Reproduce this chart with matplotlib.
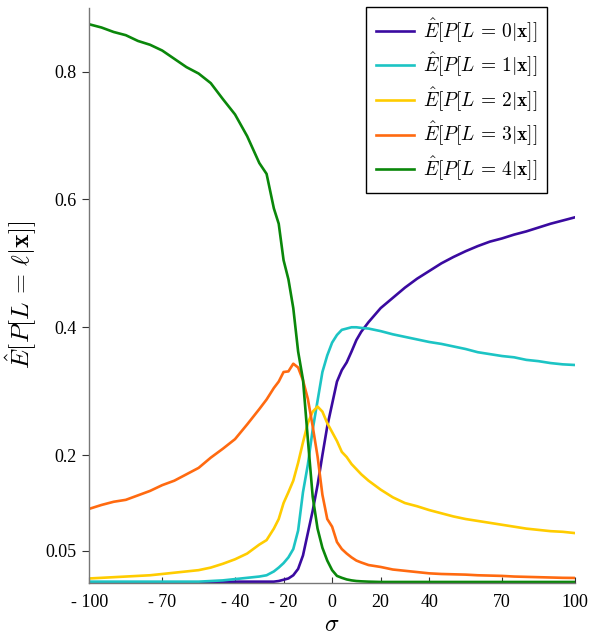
import matplotlib
matplotlib.use("Agg")
import matplotlib.pyplot as plt
import numpy as np

plt.rcParams['font.family'] = ['Liberation Serif', 'DejaVu Serif']
plt.rcParams['mathtext.fontset'] = 'cm'

# noise level sigma
sigma = [-100, -95, -90, -85, -80, -75, -70, -65, -60, -55, -50, -45, -40, -35,
         -30, -27, -24, -22, -20, -18, -16, -14, -12, -10, -8, -6, -4, -2, 0,
         2, 4, 6, 8, 10, 12, 15, 20, 25, 30, 35, 40, 45, 50, 55, 60, 65, 70,
         75, 80, 85, 90, 95, 100]

# mean posterior per level
p_l0 = [0.001, 0.001, 0.001, 0.001, 0.001, 0.001, 0.001, 0.001, 0.001, 0.001,
        0.001, 0.0015, 0.002, 0.002, 0.002, 0.002, 0.002, 0.003, 0.005, 0.007,
        0.012, 0.022, 0.043, 0.078, 0.113, 0.153, 0.200, 0.245, 0.280, 0.315,
        0.333, 0.345, 0.362, 0.380, 0.393, 0.408, 0.430, 0.446, 0.462, 0.476,
        0.488, 0.500, 0.510, 0.519, 0.527, 0.534, 0.539, 0.545, 0.550, 0.556,
        0.562, 0.567, 0.572]
p_l1 = [0.002, 0.002, 0.002, 0.002, 0.002, 0.002, 0.002, 0.002, 0.002, 0.002,
        0.003, 0.004, 0.006, 0.008, 0.010, 0.012, 0.018, 0.024, 0.031, 0.040,
        0.053, 0.082, 0.142, 0.185, 0.240, 0.285, 0.330, 0.356, 0.376, 0.388,
        0.396, 0.398, 0.400, 0.400, 0.399, 0.398, 0.394, 0.389, 0.385, 0.381,
        0.377, 0.374, 0.370, 0.366, 0.361, 0.358, 0.355, 0.353, 0.349, 0.347,
        0.344, 0.342, 0.341]
p_l2 = [0.007, 0.008, 0.009, 0.010, 0.011, 0.012, 0.014, 0.016, 0.018, 0.020,
        0.024, 0.030, 0.037, 0.046, 0.060, 0.067, 0.085, 0.100, 0.125, 0.142,
        0.160, 0.188, 0.220, 0.250, 0.268, 0.276, 0.268, 0.250, 0.236, 0.222,
        0.205, 0.197, 0.186, 0.178, 0.170, 0.160, 0.146, 0.134, 0.125, 0.120,
        0.114, 0.109, 0.104, 0.100, 0.097, 0.094, 0.091, 0.088, 0.085, 0.083,
        0.081, 0.080, 0.078]
p_l3 = [0.116, 0.122, 0.127, 0.130, 0.137, 0.144, 0.153, 0.160, 0.170, 0.180,
        0.196, 0.210, 0.225, 0.248, 0.272, 0.287, 0.305, 0.315, 0.330, 0.331,
        0.343, 0.337, 0.317, 0.288, 0.245, 0.198, 0.138, 0.100, 0.088, 0.064,
        0.053, 0.046, 0.040, 0.035, 0.032, 0.028, 0.025, 0.021, 0.019, 0.017,
        0.015, 0.014, 0.0135, 0.013, 0.012, 0.0115, 0.011, 0.010, 0.0095,
        0.009, 0.0085, 0.008, 0.0078]
p_l4 = [0.874, 0.869, 0.862, 0.857, 0.848, 0.842, 0.833, 0.820, 0.807, 0.797,
        0.782, 0.757, 0.733, 0.699, 0.657, 0.640, 0.586, 0.562, 0.505, 0.475,
        0.430, 0.362, 0.318, 0.225, 0.135, 0.085, 0.055, 0.035, 0.020, 0.011,
        0.008, 0.0055, 0.004, 0.003, 0.0025, 0.002, 0.0015, 0.0015, 0.0015,
        0.0015, 0.0015, 0.0015, 0.0015, 0.0015, 0.0015, 0.0015, 0.0015, 0.0015,
        0.0015, 0.0015, 0.0015, 0.0015, 0.0015]

series = [p_l0, p_l1, p_l2, p_l3, p_l4]
colors = ['#3a0aa0', '#1cc4c4', '#ffcc00', '#ff6a10', '#0a870a']
labels = [r'$\hat{E}[P[L\,=\,%d|\mathbf{x}]]$' % i for i in range(5)]

xticks = [-100, -70, -40, -20, 0, 20, 40, 70, 100]
xticklabels = ['- 100', '- 70', '- 40', '- 20', '0', '20', '40', '70', '100']
yticks = [0.05, 0.2, 0.4, 0.6, 0.8]
yticklabels = ['0.05', '0.2', '0.4', '0.6', '0.8']

fig = plt.figure(figsize=(5.92, 6.42), dpi=100)
ax = fig.add_axes([0.151, 0.092, 0.820, 0.896])

for vals, c, lab in zip(series, colors, labels):
    ax.plot(sigma, vals, color=c, lw=1.9, label=lab)

ax.set_xlim(-100, 100)
ax.set_ylim(0, 0.9)
ax.set_xticks(xticks)
ax.set_xticklabels(xticklabels)
ax.set_yticks(yticks)
ax.set_yticklabels(yticklabels)

for s in ['top', 'right']:
    ax.spines[s].set_visible(False)
for s in ['left', 'bottom']:
    ax.spines[s].set_color('#777777')
    ax.spines[s].set_linewidth(1.0)

ax.tick_params(axis='x', direction='in', length=4, labelsize=13, pad=8, color='#333333')
ax.tick_params(axis='y', direction='out', length=5, labelsize=13, pad=4, color='#333333')

ax.set_xlabel(r'$\sigma$', fontsize=17, labelpad=3)
ax.set_ylabel(r'$\hat{E}[P[L\,=\,\ell|\mathbf{x}]]$', fontsize=18.5, labelpad=5)

leg = ax.legend(loc='upper right', bbox_to_anchor=(0.942, 1.002), fontsize=14,
                fancybox=False, framealpha=1, edgecolor='black',
                handlelength=1.95, handletextpad=0.45, labelspacing=0.32,
                borderpad=0.5, borderaxespad=0)
leg.get_frame().set_linewidth(1.0)

fig.savefig('out.png', dpi=100)
